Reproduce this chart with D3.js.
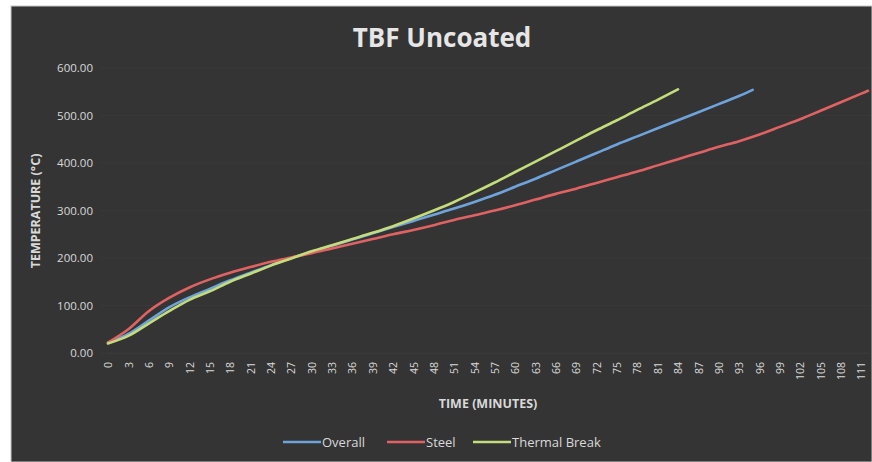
<!DOCTYPE html>
<html>
<head>
<meta charset="utf-8">
<script src="https://cdn.jsdelivr.net/npm/d3@7"></script>
<style>
  body { margin: 0; background: #ffffff; }
  svg { display: block; }
  text { font-family: "Open Sans", "Noto Sans", sans-serif; }
</style>
</head>
<body>
<svg id="chart" width="872" height="462"></svg>
<script>
// Category ticks on the time axis (minutes)
const timeTicks = [0, 3, 6, 9, 12, 15, 18, 21, 24, 27, 30, 33, 36, 39, 42, 45, 48, 51, 54,
  57, 60, 63, 66, 69, 72, 75, 78, 81, 84, 87, 90, 93, 96, 99, 102, 105, 108, 111];
const tempTicks = [0, 100, 200, 300, 400, 500, 600];

// Overall temperature (°C)
const overallTime = [0, 3, 6, 9, 12, 15, 18, 21, 24, 27, 30, 33, 36, 39, 42, 45, 48, 51, 54,
  57, 60, 63, 66, 69, 72, 75, 78, 81, 84, 87, 90, 93, 95];
const overallTemp = [22, 40, 68, 96, 117, 135, 153, 169, 185, 200, 213, 226, 239, 252, 265, 278, 291, 304, 318,
  333, 350, 367, 385, 403, 421, 439, 456, 473, 490, 507, 524, 541, 554];

// Steel temperature (°C)
const steelTime = [0, 3, 6, 9, 12, 15, 18, 21, 24, 27, 30, 33, 36, 39, 42, 45, 48, 51, 54,
  57, 60, 63, 66, 69, 72, 75, 78, 81, 84, 87, 90, 93, 96, 99, 102, 105, 108, 111, 112];
const steelTemp = [22, 50, 88, 116, 138, 155, 169, 181, 192, 201, 210, 220, 230, 240, 250, 259, 269, 280, 290,
  300, 311, 323, 335, 346, 358, 370, 382, 395, 408, 421, 434, 446, 460, 476, 492, 510, 528, 546, 552];

// Thermal break temperature (°C)
const breakTime = [0, 3, 6, 9, 12, 15, 18, 21, 24, 27, 30, 33, 36, 39, 42, 45, 48, 51, 54,
  57, 60, 63, 66, 69, 72, 75, 78, 81, 84];
const breakTemp = [20, 36, 62, 88, 112, 130, 150, 167, 184, 199, 214, 227, 240, 253, 267, 283, 300, 318, 338,
  359, 381, 403, 425, 447, 469, 490, 512, 533, 555];

const seriesNames = ["Overall", "Steel", "Thermal Break"];
const seriesColors = ["#6ea3dc", "#e06262", "#c4dc7a"];

const series = [
  { name: seriesNames[0], color: seriesColors[0], pts: overallTime.map((t, i) => [t, overallTemp[i]]) },
  { name: seriesNames[1], color: seriesColors[1], pts: steelTime.map((t, i) => [t, steelTemp[i]]) },
  { name: seriesNames[2], color: seriesColors[2], pts: breakTime.map((t, i) => [t, breakTemp[i]]) }
];

const svg = d3.select("#chart");

// Chart panel
svg.append("rect").attr("x", 11).attr("y", 6).attr("width", 861).attr("height", 456)
  .attr("fill", "#343434").attr("stroke", "#c8c8c8").attr("stroke-width", 1);

const x = d3.scaleLinear().domain([0, 112]).range([108, 868]);
const y = d3.scaleLinear().domain([0, 600]).range([353, 68]);

// Faint horizontal gridlines
svg.append("g").selectAll("line").data(tempTicks).join("line")
  .attr("x1", 100).attr("x2", 870)
  .attr("y1", d => y(d)).attr("y2", d => y(d))
  .attr("stroke", "#383838").attr("stroke-width", 1);

// Y axis
const yAxis = svg.append("g").attr("transform", "translate(100,0)")
  .call(d3.axisLeft(y).tickValues(tempTicks).tickFormat(d3.format(".2f")).tickSize(0).tickPadding(7));
yAxis.select(".domain").remove();
yAxis.selectAll("text").attr("fill", "#d9d9d9").attr("font-size", "11.5px");

// X axis
const xAxis = svg.append("g").attr("transform", `translate(0,${y(0)})`)
  .call(d3.axisBottom(x).tickValues(timeTicks).tickFormat(d => d).tickSize(0));
xAxis.select(".domain").attr("stroke", "#3a3a3a");
xAxis.selectAll("text")
  .attr("fill", "#d9d9d9").attr("font-size", "10.5px")
  .attr("transform", "rotate(-90)")
  .attr("text-anchor", "end")
  .attr("x", -9).attr("y", 0).attr("dy", "0.35em");

// Lines
const line = d3.line().x(d => x(d[0])).y(d => y(d[1])).curve(d3.curveMonotoneX);
svg.append("g").selectAll("path").data(series).join("path")
  .attr("d", d => line(d.pts))
  .attr("fill", "none")
  .attr("stroke", d => d.color)
  .attr("stroke-width", 2.6)
  .attr("stroke-linecap", "round");

// Title
svg.append("text").attr("x", 442).attr("y", 47).attr("text-anchor", "middle")
  .attr("fill", "#e6e6e6").attr("font-size", "26px").attr("font-weight", "bold")
  .text("TBF Uncoated");

// Axis titles
svg.append("text").attr("transform", "translate(40,211) rotate(-90)").attr("text-anchor", "middle")
  .attr("fill", "#d9d9d9").attr("font-size", "12.5px").attr("font-weight", "bold")
  .text("TEMPERATURE (°C)");
svg.append("text").attr("x", 488).attr("y", 408).attr("text-anchor", "middle")
  .attr("fill", "#d9d9d9").attr("font-size", "12.5px").attr("font-weight", "bold")
  .text("TIME (MINUTES)");

// Legend
const legendX = [283, 387, 473];
const legend = svg.append("g").selectAll("g").data(series).join("g")
  .attr("transform", (d, i) => `translate(${legendX[i]},442)`);
legend.append("line").attr("x1", 0).attr("x2", 38).attr("y1", 0).attr("y2", 0)
  .attr("stroke", d => d.color).attr("stroke-width", 2.6);
legend.append("text").attr("x", 39).attr("y", 0).attr("dy", "0.35em")
  .attr("fill", "#d9d9d9").attr("font-size", "13px").text(d => d.name);
</script>
</body>
</html>
